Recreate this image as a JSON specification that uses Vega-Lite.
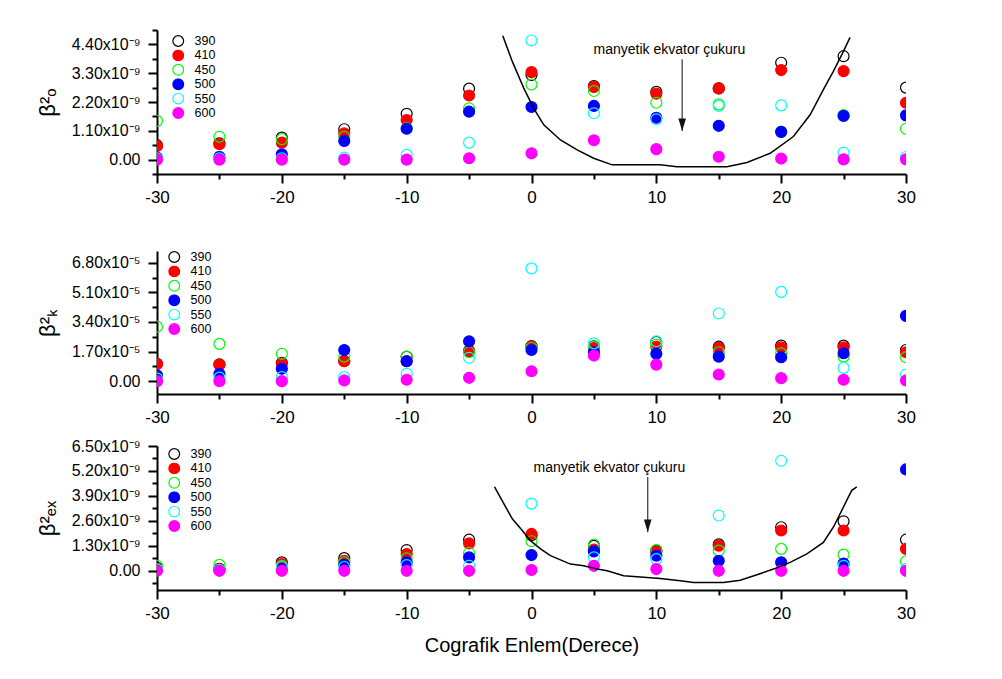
{
  "$schema": "https://vega.github.io/schema/vega-lite/v6.json",
  "background": "white",
  "padding": {"left": 36, "top": 22, "right": 5, "bottom": 5},
  "config": {
    "font": "Liberation Sans",
    "view": {"stroke": null},
    "axis": {"grid": false, "domainColor": "black", "domainWidth": 2, "tickColor": "black", "tickWidth": 2, "labelColor": "black", "titleColor": "black", "labelFont": "Liberation Sans", "titleFont": "Liberation Sans", "titleFontWeight": "normal", "labelFlush": false, "labelOverlap": false, "labelBound": false},
    "legend": {"labelFontSize": 12.5, "labelFont": "Liberation Sans", "labelColor": "black", "symbolSize": 115, "symbolStrokeWidth": 1.2, "rowPadding": 1.4, "clipHeight": 12, "labelOffset": 10, "padding": 0, "symbolOpacity": 1, "symbolType": "circle"}
  },
  "datasets": {
    "bo": [
      {"lat":-30,"wl":"390","v":0.55e-9},{"lat":-25,"wl":"390","v":0.62e-9},{"lat":-20,"wl":"390","v":0.84e-9},{"lat":-15,"wl":"390","v":1.16e-9},{"lat":-10,"wl":"390","v":1.75e-9},{"lat":-5,"wl":"390","v":2.71e-9},{"lat":0,"wl":"390","v":3.23e-9},{"lat":5,"wl":"390","v":2.81e-9},{"lat":10,"wl":"390","v":2.59e-9},{"lat":15,"wl":"390","v":2.72e-9},{"lat":20,"wl":"390","v":3.70e-9},{"lat":25,"wl":"390","v":3.95e-9},{"lat":30,"wl":"390","v":2.75e-9},
      {"lat":-30,"wl":"410","v":0.52e-9},{"lat":-25,"wl":"410","v":0.59e-9},{"lat":-20,"wl":"410","v":0.65e-9},{"lat":-15,"wl":"410","v":1.0e-9},{"lat":-10,"wl":"410","v":1.51e-9},{"lat":-5,"wl":"410","v":2.45e-9},{"lat":0,"wl":"410","v":3.34e-9},{"lat":5,"wl":"410","v":2.77e-9},{"lat":10,"wl":"410","v":2.52e-9},{"lat":15,"wl":"410","v":2.72e-9},{"lat":20,"wl":"410","v":3.42e-9},{"lat":25,"wl":"410","v":3.38e-9},{"lat":30,"wl":"410","v":2.17e-9},
      {"lat":-30,"wl":"450","v":1.48e-9},{"lat":-25,"wl":"450","v":0.87e-9},{"lat":-20,"wl":"450","v":0.78e-9},{"lat":-15,"wl":"450","v":0.87e-9},{"lat":-10,"wl":"450","v":1.2e-9},{"lat":-5,"wl":"450","v":1.96e-9},{"lat":0,"wl":"450","v":2.87e-9},{"lat":5,"wl":"450","v":2.62e-9},{"lat":10,"wl":"450","v":2.17e-9},{"lat":15,"wl":"450","v":2.11e-9},{"lat":20,"wl":"450","v":1.06e-9},{"lat":25,"wl":"450","v":1.7e-9},{"lat":30,"wl":"450","v":1.18e-9},
      {"lat":-30,"wl":"500","v":0.08e-9},{"lat":-25,"wl":"500","v":0.11e-9},{"lat":-20,"wl":"500","v":0.2e-9},{"lat":-15,"wl":"500","v":0.71e-9},{"lat":-10,"wl":"500","v":1.18e-9},{"lat":-5,"wl":"500","v":1.83e-9},{"lat":0,"wl":"500","v":2.01e-9},{"lat":5,"wl":"500","v":2.05e-9},{"lat":10,"wl":"500","v":1.6e-9},{"lat":15,"wl":"500","v":1.29e-9},{"lat":20,"wl":"500","v":1.06e-9},{"lat":25,"wl":"500","v":1.67e-9},{"lat":30,"wl":"500","v":1.69e-9},
      {"lat":-30,"wl":"550","v":0.05e-9},{"lat":-25,"wl":"550","v":0.05e-9},{"lat":-20,"wl":"550","v":0.05e-9},{"lat":-15,"wl":"550","v":0.08e-9},{"lat":-10,"wl":"550","v":0.18e-9},{"lat":-5,"wl":"550","v":0.65e-9},{"lat":0,"wl":"550","v":4.55e-9},{"lat":5,"wl":"550","v":1.77e-9},{"lat":10,"wl":"550","v":1.54e-9},{"lat":15,"wl":"550","v":2.05e-9},{"lat":20,"wl":"550","v":2.07e-9},{"lat":25,"wl":"550","v":0.27e-9},{"lat":30,"wl":"550","v":0.1e-9},
      {"lat":-30,"wl":"600","v":0},{"lat":-25,"wl":"600","v":0},{"lat":-20,"wl":"600","v":0},{"lat":-15,"wl":"600","v":0},{"lat":-10,"wl":"600","v":0},{"lat":-5,"wl":"600","v":0.05e-9},{"lat":0,"wl":"600","v":0.24e-9},{"lat":5,"wl":"600","v":0.74e-9},{"lat":10,"wl":"600","v":0.4e-9},{"lat":15,"wl":"600","v":0.11e-9},{"lat":20,"wl":"600","v":0.04e-9},{"lat":25,"wl":"600","v":0.01e-9},{"lat":30,"wl":"600","v":0.01e-9}
    ],
    "bk": [
      {"lat":-30,"wl":"390","v":1.0e-5},{"lat":-25,"wl":"390","v":0.97e-5},{"lat":-20,"wl":"390","v":1.05e-5},{"lat":-15,"wl":"390","v":1.16e-5},{"lat":-10,"wl":"390","v":1.4e-5},{"lat":-5,"wl":"390","v":1.75e-5},{"lat":0,"wl":"390","v":2.02e-5},{"lat":5,"wl":"390","v":2.0e-5},{"lat":10,"wl":"390","v":2.25e-5},{"lat":15,"wl":"390","v":1.98e-5},{"lat":20,"wl":"390","v":2.04e-5},{"lat":25,"wl":"390","v":2.04e-5},{"lat":30,"wl":"390","v":1.79e-5},
      {"lat":-30,"wl":"410","v":0.99e-5},{"lat":-25,"wl":"410","v":0.95e-5},{"lat":-20,"wl":"410","v":1.03e-5},{"lat":-15,"wl":"410","v":1.14e-5},{"lat":-10,"wl":"410","v":1.15e-5},{"lat":-5,"wl":"410","v":1.71e-5},{"lat":0,"wl":"410","v":1.98e-5},{"lat":5,"wl":"410","v":1.9e-5},{"lat":10,"wl":"410","v":1.98e-5},{"lat":15,"wl":"410","v":1.91e-5},{"lat":20,"wl":"410","v":1.94e-5},{"lat":25,"wl":"410","v":1.94e-5},{"lat":30,"wl":"410","v":1.66e-5},
      {"lat":-30,"wl":"450","v":3.13e-5},{"lat":-25,"wl":"450","v":2.14e-5},{"lat":-20,"wl":"450","v":1.57e-5},{"lat":-15,"wl":"450","v":1.41e-5},{"lat":-10,"wl":"450","v":1.41e-5},{"lat":-5,"wl":"450","v":1.66e-5},{"lat":0,"wl":"450","v":1.92e-5},{"lat":5,"wl":"450","v":1.98e-5},{"lat":10,"wl":"450","v":2.1e-5},{"lat":15,"wl":"450","v":1.66e-5},{"lat":20,"wl":"450","v":1.6e-5},{"lat":25,"wl":"450","v":1.41e-5},{"lat":30,"wl":"450","v":1.37e-5},
      {"lat":-30,"wl":"500","v":0.33e-5},{"lat":-25,"wl":"500","v":0.42e-5},{"lat":-20,"wl":"500","v":0.71e-5},{"lat":-15,"wl":"500","v":1.79e-5},{"lat":-10,"wl":"500","v":1.14e-5},{"lat":-5,"wl":"500","v":2.29e-5},{"lat":0,"wl":"500","v":1.79e-5},{"lat":5,"wl":"500","v":1.66e-5},{"lat":10,"wl":"500","v":1.57e-5},{"lat":15,"wl":"500","v":1.41e-5},{"lat":20,"wl":"500","v":1.37e-5},{"lat":25,"wl":"500","v":1.6e-5},{"lat":30,"wl":"500","v":3.75e-5},
      {"lat":-30,"wl":"550","v":0.15e-5},{"lat":-25,"wl":"550","v":0.2e-5},{"lat":-20,"wl":"550","v":0.23e-5},{"lat":-15,"wl":"550","v":0.23e-5},{"lat":-10,"wl":"550","v":0.42e-5},{"lat":-5,"wl":"550","v":1.34e-5},{"lat":0,"wl":"550","v":6.48e-5},{"lat":5,"wl":"550","v":2.17e-5},{"lat":10,"wl":"550","v":2.29e-5},{"lat":15,"wl":"550","v":3.89e-5},{"lat":20,"wl":"550","v":5.13e-5},{"lat":25,"wl":"550","v":0.76e-5},{"lat":30,"wl":"550","v":0.38e-5},
      {"lat":-30,"wl":"600","v":0},{"lat":-25,"wl":"600","v":0},{"lat":-20,"wl":"600","v":0},{"lat":-15,"wl":"600","v":0.04e-5},{"lat":-10,"wl":"600","v":0.08e-5},{"lat":-5,"wl":"600","v":0.19e-5},{"lat":0,"wl":"600","v":0.57e-5},{"lat":5,"wl":"600","v":1.47e-5},{"lat":10,"wl":"600","v":0.95e-5},{"lat":15,"wl":"600","v":0.38e-5},{"lat":20,"wl":"600","v":0.17e-5},{"lat":25,"wl":"600","v":0.08e-5},{"lat":30,"wl":"600","v":0.04e-5}
    ],
    "bex": [
      {"lat":-30,"wl":"390","v":0.15e-9},{"lat":-25,"wl":"390","v":0.1e-9},{"lat":-20,"wl":"390","v":0.44e-9},{"lat":-15,"wl":"390","v":0.66e-9},{"lat":-10,"wl":"390","v":1.08e-9},{"lat":-5,"wl":"390","v":1.62e-9},{"lat":0,"wl":"390","v":1.85e-9},{"lat":5,"wl":"390","v":1.3e-9},{"lat":10,"wl":"390","v":1.05e-9},{"lat":15,"wl":"390","v":1.38e-9},{"lat":20,"wl":"390","v":2.27e-9},{"lat":25,"wl":"390","v":2.58e-9},{"lat":30,"wl":"390","v":1.62e-9},
      {"lat":-30,"wl":"410","v":0.1e-9},{"lat":-25,"wl":"410","v":0.08e-9},{"lat":-20,"wl":"410","v":0.35e-9},{"lat":-15,"wl":"410","v":0.52e-9},{"lat":-10,"wl":"410","v":0.87e-9},{"lat":-5,"wl":"410","v":1.43e-9},{"lat":0,"wl":"410","v":1.92e-9},{"lat":5,"wl":"410","v":1.1e-9},{"lat":10,"wl":"410","v":1.0e-9},{"lat":15,"wl":"410","v":1.31e-9},{"lat":20,"wl":"410","v":2.10e-9},{"lat":25,"wl":"410","v":2.10e-9},{"lat":30,"wl":"410","v":1.14e-9},
      {"lat":-30,"wl":"450","v":0.26e-9},{"lat":-25,"wl":"450","v":0.31e-9},{"lat":-20,"wl":"450","v":0.26e-9},{"lat":-15,"wl":"450","v":0.44e-9},{"lat":-10,"wl":"450","v":0.65e-9},{"lat":-5,"wl":"450","v":0.93e-9},{"lat":0,"wl":"450","v":1.54e-9},{"lat":5,"wl":"450","v":1.36e-9},{"lat":10,"wl":"450","v":1.08e-9},{"lat":15,"wl":"450","v":1.05e-9},{"lat":20,"wl":"450","v":1.14e-9},{"lat":25,"wl":"450","v":0.84e-9},{"lat":30,"wl":"450","v":0.49e-9},
      {"lat":-30,"wl":"500","v":0.05e-9},{"lat":-25,"wl":"500","v":0.04e-9},{"lat":-20,"wl":"500","v":0.09e-9},{"lat":-15,"wl":"500","v":0.31e-9},{"lat":-10,"wl":"500","v":0.44e-9},{"lat":-5,"wl":"500","v":0.70e-9},{"lat":0,"wl":"500","v":0.82e-9},{"lat":5,"wl":"500","v":1.01e-9},{"lat":10,"wl":"500","v":0.79e-9},{"lat":15,"wl":"500","v":0.52e-9},{"lat":20,"wl":"500","v":0.44e-9},{"lat":25,"wl":"500","v":0.38e-9},{"lat":30,"wl":"500","v":5.28e-9},
      {"lat":-30,"wl":"550","v":0.08e-9},{"lat":-25,"wl":"550","v":0.05e-9},{"lat":-20,"wl":"550","v":0.2e-9},{"lat":-15,"wl":"550","v":0.2e-9},{"lat":-10,"wl":"550","v":0.3e-9},{"lat":-5,"wl":"550","v":0.26e-9},{"lat":0,"wl":"550","v":3.50e-9},{"lat":5,"wl":"550","v":0.70e-9},{"lat":10,"wl":"550","v":0.61e-9},{"lat":15,"wl":"550","v":2.88e-9},{"lat":20,"wl":"550","v":5.73e-9},{"lat":25,"wl":"550","v":0.26e-9},{"lat":30,"wl":"550","v":0.1e-9},
      {"lat":-30,"wl":"600","v":0},{"lat":-25,"wl":"600","v":0},{"lat":-20,"wl":"600","v":0},{"lat":-15,"wl":"600","v":0},{"lat":-10,"wl":"600","v":0},{"lat":-5,"wl":"600","v":0},{"lat":0,"wl":"600","v":0.04e-9},{"lat":5,"wl":"600","v":0.26e-9},{"lat":10,"wl":"600","v":0.09e-9},{"lat":15,"wl":"600","v":0},{"lat":20,"wl":"600","v":0},{"lat":25,"wl":"600","v":0},{"lat":30,"wl":"600","v":0}
    ],
    "curve1": [
      {"lat":-2.3,"v":4.73e-9},{"lat":-1.54,"v":3.75e-9},{"lat":-0.62,"v":2.73e-9},{"lat":0.18,"v":1.96e-9},{"lat":0.98,"v":1.33e-9},{"lat":2.32,"v":0.75e-9},{"lat":3.66,"v":0.37e-9},{"lat":4.98,"v":0.05e-9},{"lat":6.46,"v":-0.20e-9},{"lat":10.32,"v":-0.20e-9},{"lat":11.66,"v":-0.27e-9},{"lat":15.66,"v":-0.27e-9},{"lat":17.26,"v":-0.11e-9},{"lat":19.12,"v":0.24e-9},{"lat":20.98,"v":0.88e-9},{"lat":22.32,"v":1.71e-9},{"lat":23.38,"v":2.67e-9},{"lat":24.18,"v":3.37e-9},{"lat":24.86,"v":4.01e-9},{"lat":25.52,"v":4.67e-9}
    ],
    "curve3": [
      {"lat":-2.96,"v":4.37e-9},{"lat":-2.22,"v":3.50e-9},{"lat":-1.54,"v":2.71e-9},{"lat":-0.74,"v":2.10e-9},{"lat":-0.08,"v":1.57e-9},{"lat":0.72,"v":1.14e-9},{"lat":1.52,"v":0.79e-9},{"lat":3.12,"v":0.35e-9},{"lat":4.18,"v":0.26e-9},{"lat":5.26,"v":0.09e-9},{"lat":6.06,"v":0},{"lat":7.38,"v":-0.26e-9},{"lat":10.32,"v":-0.40e-9},{"lat":11.92,"v":-0.52e-9},{"lat":12.98,"v":-0.61e-9},{"lat":15.38,"v":-0.61e-9},{"lat":16.72,"v":-0.49e-9},{"lat":18.06,"v":-0.21e-9},{"lat":19.38,"v":0.09e-9},{"lat":20.72,"v":0.44e-9},{"lat":22.06,"v":0.88e-9},{"lat":23.38,"v":1.48e-9},{"lat":24.18,"v":2.27e-9},{"lat":24.86,"v":3.15e-9},{"lat":25.38,"v":3.84e-9},{"lat":25.66,"v":4.19e-9},{"lat":26.06,"v":4.37e-9}
    ],
    "text1": [{"lat":11.05,"v":4.18e-9,"label":"manyetik ekvator çukuru"}],
    "arrow1": [{"lat":12.07,"v":1.09e-9,"vtop":3.83e-9}],
    "text3": [{"lat":6.24,"v":5.36e-9,"label":"manyetik ekvator çukuru"}],
    "arrow3": [{"lat":9.31,"v":2.01e-9,"vtop":4.89e-9}]
  },
  "spacing": 77,
  "bounds": "flush",
  "resolve": {"scale": {"fill": "independent", "stroke": "independent"}},
  "vconcat": [
    {
      "width": 749, "height": 144,
      "encoding": {
        "x": {"field": "lat", "type": "quantitative", "scale": {"domain": [-30, 30], "nice": false, "zero": false},
              "axis": {"title": null, "values": [-30,-25,-20,-15,-10,-5,0,5,10,15,20,25,30], "labelExpr": "datum.value % 10 == 0 ? '' + datum.value : ''", "tickSize": {"condition": {"test": "datum.value % 10 == 0", "value": 9}, "value": 5}, "labelFontSize": 17, "labelPadding": 6}},
        "y": {"field": "v", "type": "quantitative", "scale": {"domain": [-0.55e-9, 4.95e-9], "nice": false, "zero": false},
              "axis": {"title": "β²ₒ", "titleFontSize": 22, "titlePadding": 12, "values": [-0.55e-9, 0, 0.55e-9, 1.1e-9, 1.65e-9, 2.2e-9, 2.75e-9, 3.3e-9, 3.85e-9, 4.4e-9, 4.95e-9], "labelExpr": "round(datum.value*1e9/0.55) % 2 != 0 ? '' : (datum.value == 0 ? '0.00' : format(datum.value*1e9, '.2f') + 'x10⁻⁹')", "tickSize": {"condition": {"test": "round(datum.value*1e9/0.55) % 2 == 0", "value": 9}, "value": 5}, "labelFontSize": 16, "labelPadding": 8}}
      },
      "layer": [
        {"data": {"name": "bo"}, "mark": {"type": "point", "shape": "circle", "size": 120, "strokeWidth": 1.2, "opacity": 1, "clip": true},
         "encoding": {
           "stroke": {"field": "wl", "type": "nominal", "scale": {"domain": ["390","410","450","500","550","600"], "range": ["#000000","#ff0000","#00ff00","#0000ff","#00ffff","#ff00ff"]}, "legend": {"title": null, "orient": "none", "legendX": 15, "legendY": 5}},
           "fill": {"field": "wl", "type": "nominal", "scale": {"domain": ["390","410","450","500","550","600"], "range": ["transparent","#ff0000","transparent","#0000ff","transparent","#ff00ff"]}, "legend": {"title": null, "orient": "none", "legendX": 15, "legendY": 5}}
         }},
        {"data": {"name": "curve1"}, "mark": {"type": "line", "color": "black", "strokeWidth": 1.5, "clip": true}, "encoding": {}},
        {"data": {"name": "text1"}, "mark": {"type": "text", "fontSize": 14, "color": "black", "baseline": "middle", "align": "center"}, "encoding": {"text": {"field": "label"}}},
        {"data": {"name": "arrow1"}, "mark": {"type": "rule", "color": "#444444", "strokeWidth": 1.3}, "encoding": {"y2": {"field": "vtop"}}},
        {"data": {"name": "arrow1"}, "mark": {"type": "point", "shape": "M-0.3,-1L0.3,-1L0,0Z", "size": 640, "filled": true, "color": "#111111", "opacity": 1, "strokeWidth": 0}, "encoding": {}}
      ]
    },
    {
      "spacing": 52,
      "bounds": "flush",
      "resolve": {"scale": {"fill": "independent", "stroke": "independent"}},
      "vconcat": [
        {
          "width": 749, "height": 143,
          "encoding": {
            "x": {"field": "lat", "type": "quantitative", "scale": {"domain": [-30, 30], "nice": false, "zero": false},
                  "axis": {"title": null, "values": [-30,-25,-20,-15,-10,-5,0,5,10,15,20,25,30], "labelExpr": "datum.value % 10 == 0 ? '' + datum.value : ''", "tickSize": {"condition": {"test": "datum.value % 10 == 0", "value": 9}, "value": 5}, "labelFontSize": 17, "labelPadding": 6}},
            "y": {"field": "v", "type": "quantitative", "scale": {"domain": [-0.74e-5, 7.48e-5], "nice": false, "zero": false},
                  "axis": {"title": "β²ₖ", "titleFontSize": 22, "titlePadding": 12, "values": [0, 0.85e-5, 1.7e-5, 2.55e-5, 3.4e-5, 4.25e-5, 5.1e-5, 5.95e-5, 6.8e-5], "labelExpr": "round(datum.value*1e5/0.85) % 2 != 0 ? '' : (datum.value == 0 ? '0.00' : format(datum.value*1e5, '.2f') + 'x10⁻⁵')", "tickSize": {"condition": {"test": "round(datum.value*1e5/0.85) % 2 == 0", "value": 9}, "value": 5}, "labelFontSize": 16, "labelPadding": 8}}
          },
          "layer": [
            {"data": {"name": "bk"}, "mark": {"type": "point", "shape": "circle", "size": 120, "strokeWidth": 1.2, "opacity": 1, "clip": true},
             "encoding": {
               "stroke": {"field": "wl", "type": "nominal", "scale": {"domain": ["390","410","450","500","550","600"], "range": ["#000000","#ff0000","#00ff00","#0000ff","#00ffff","#ff00ff"]}, "legend": {"title": null, "orient": "none", "legendX": 11, "legendY": 0}},
               "fill": {"field": "wl", "type": "nominal", "scale": {"domain": ["390","410","450","500","550","600"], "range": ["transparent","#ff0000","transparent","#0000ff","transparent","#ff00ff"]}, "legend": {"title": null, "orient": "none", "legendX": 11, "legendY": 0}}
             }}
          ]
        },
        {
          "width": 749, "height": 144,
          "encoding": {
            "x": {"field": "lat", "type": "quantitative", "scale": {"domain": [-30, 30], "nice": false, "zero": false},
                  "axis": {"title": "Cografik Enlem(Derece)", "titleFontSize": 20, "titlePadding": 14, "values": [-30,-25,-20,-15,-10,-5,0,5,10,15,20,25,30], "labelExpr": "datum.value % 10 == 0 ? '' + datum.value : ''", "tickSize": {"condition": {"test": "datum.value % 10 == 0", "value": 9}, "value": 5}, "labelFontSize": 17, "labelPadding": 6}},
            "y": {"field": "v", "type": "quantitative", "scale": {"domain": [-1.0e-9, 6.5e-9], "nice": false, "zero": false},
                  "axis": {"title": "β²ₑₓ", "titleFontSize": 22, "titlePadding": 12, "values": [-0.65e-9, 0, 0.65e-9, 1.3e-9, 1.95e-9, 2.6e-9, 3.25e-9, 3.9e-9, 4.55e-9, 5.2e-9, 5.85e-9, 6.5e-9], "labelExpr": "round(datum.value*1e9/0.65) % 2 != 0 ? '' : (datum.value == 0 ? '0.00' : format(datum.value*1e9, '.2f') + 'x10⁻⁹')", "tickSize": {"condition": {"test": "round(datum.value*1e9/0.65) % 2 == 0", "value": 9}, "value": 5}, "labelFontSize": 16, "labelPadding": 8}}
          },
          "layer": [
            {"data": {"name": "bex"}, "mark": {"type": "point", "shape": "circle", "size": 120, "strokeWidth": 1.2, "opacity": 1, "clip": true},
             "encoding": {
               "stroke": {"field": "wl", "type": "nominal", "scale": {"domain": ["390","410","450","500","550","600"], "range": ["#000000","#ff0000","#00ff00","#0000ff","#00ffff","#ff00ff"]}, "legend": {"title": null, "orient": "none", "legendX": 11, "legendY": 2}},
               "fill": {"field": "wl", "type": "nominal", "scale": {"domain": ["390","410","450","500","550","600"], "range": ["transparent","#ff0000","transparent","#0000ff","transparent","#ff00ff"]}, "legend": {"title": null, "orient": "none", "legendX": 11, "legendY": 2}}
             }},
            {"data": {"name": "curve3"}, "mark": {"type": "line", "color": "black", "strokeWidth": 1.5, "clip": true}, "encoding": {}},
            {"data": {"name": "text3"}, "mark": {"type": "text", "fontSize": 14, "color": "black", "baseline": "middle", "align": "center"}, "encoding": {"text": {"field": "label"}}},
            {"data": {"name": "arrow3"}, "mark": {"type": "rule", "color": "#444444", "strokeWidth": 1.3}, "encoding": {"y2": {"field": "vtop"}}},
            {"data": {"name": "arrow3"}, "mark": {"type": "point", "shape": "M-0.3,-1L0.3,-1L0,0Z", "size": 640, "filled": true, "color": "#111111", "opacity": 1, "strokeWidth": 0}, "encoding": {}}
          ]
        }
      ]
    }
  ]
}
